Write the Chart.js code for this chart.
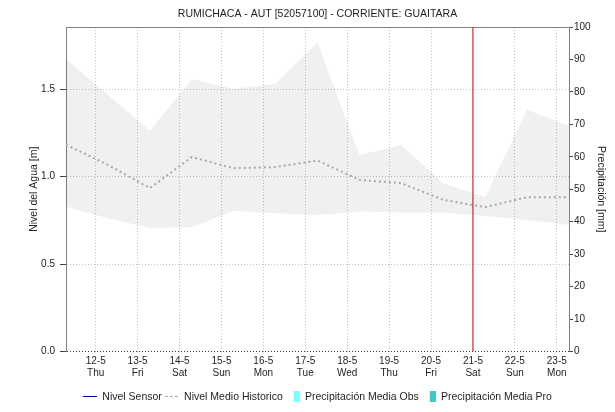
<!DOCTYPE html>
<html lang="es">
<head>
<meta charset="utf-8">
<title>RUMICHACA - AUT [52057100]</title>
<script src="https://cdn.jsdelivr.net/npm/chart.js@4.4.1/dist/chart.umd.min.js"></script>
<style>
  html, body { margin: 0; padding: 0; background: #ffffff; }
  #box { width: 615px; height: 412px; }
</style>
</head>
<body>
<div id="box"><canvas id="chart" width="615" height="412"></canvas></div>
<script>
// Station and axis text
const chartTitle = 'RUMICHACA - AUT [52057100] - CORRIENTE: GUAITARA';
const leftAxisTitle = 'Nivel del Agua [m]';
const rightAxisTitle = 'Precipitación [mm]';

// Day ticks, 12-5 to 23-5
const dayLabels = ['12-5', '13-5', '14-5', '15-5', '16-5', '17-5', '18-5', '19-5', '20-5', '21-5', '22-5', '23-5'];
const weekdayLabels = ['Thu', 'Fri', 'Sat', 'Sun', 'Mon', 'Tue', 'Wed', 'Thu', 'Fri', 'Sat', 'Sun', 'Mon'];

// Sample times in hours from 12-5 00:00 (one value per day, 07:00)
const sampleHours = [-17, 7, 31, 55, 79, 103, 127, 151, 175, 199, 223, 247, 271];

// Historic water level statistics [m]
const historicMax  = [1.672, 1.467, 1.262, 1.558, 1.502, 1.531, 1.768, 1.124, 1.181, 0.962, 0.882, 1.382, 1.290];
const historicMean = [1.182, 1.067, 0.934, 1.111, 1.048, 1.054, 1.092, 0.981, 0.962, 0.867, 0.825, 0.882, 0.882];
const historicMin  = [0.828, 0.762, 0.706, 0.710, 0.803, 0.790, 0.781, 0.800, 0.794, 0.794, 0.775, 0.752, 0.723];

// Sensor readings and precipitation: no records in this window
const sensorLevel = [];
const precipObserved = [];
const precipForecast = [];

// Current time marker (21-5 00:00)
const nowHour = 216;

// Axis ranges
const hourMin = -17, hourMax = 271;
const levelMax = 1.855;
const precipMax = 100;

const pairs = (xs, ys) => ys.map((y, i) => ({ x: xs[i], y }));

const tickFont = { family: '"Liberation Sans Narrow", "Arial Narrow", "Liberation Sans", Arial, sans-serif', size: 10 };
const textFont = { family: '"Liberation Sans", Arial, sans-serif', size: 10.5 };
const ink = '#1e1e1e';
const frame = '#808080';
const gridDots = '#c4c4c4';

// Small legend swatches
function swatch(w, h, paint) {
  const c = document.createElement('canvas');
  c.width = w; c.height = h;
  paint(c.getContext('2d'));
  return c;
}
const SW = 14;
const legendSwatches = {
  1: swatch(SW, 1, g => { g.fillStyle = '#0000cc'; g.fillRect(0, 0, SW, 1); }),
  2: swatch(SW, 1, g => { g.fillStyle = '#a8a8a8'; for (let x = 0; x < SW; x += 5) g.fillRect(x, 0, 3, 1); }),
  3: swatch(SW, 11, g => { g.fillStyle = '#80ffff'; g.fillRect(SW - 6, 0, 6, 11); }),
  4: swatch(SW, 11, g => { g.fillStyle = '#3ec8c8'; g.fillRect(SW - 6, 0, 6, 11); })
};

new Chart(document.getElementById('chart'), {
  type: 'line',
  data: {
    datasets: [
      { label: 'Ahora', data: [{ x: nowHour, y: 0 }, { x: nowHour, y: levelMax }],
        borderColor: '#e00000', borderWidth: 1, yAxisID: 'y' },
      { label: 'Nivel Sensor', data: sensorLevel, borderColor: '#0000cc', borderWidth: 1, yAxisID: 'y' },
      { label: 'Nivel Medio Historico', data: pairs(sampleHours, historicMean),
        borderColor: '#a8a8a8', borderWidth: 2, borderDash: [2, 3], yAxisID: 'y' },
      { type: 'bar', label: 'Precipitación Media Obs', data: precipObserved, backgroundColor: '#80ffff', yAxisID: 'y1' },
      { type: 'bar', label: 'Precipitación Media Pro', data: precipForecast, backgroundColor: '#3ec8c8', yAxisID: 'y1' },
      { label: 'Máximo Historico', data: pairs(sampleHours, historicMax),
        borderColor: 'rgba(0,0,0,0)', backgroundColor: 'rgba(0,0,0,0.06)', fill: '+1', yAxisID: 'y' },
      { label: 'Mínimo Historico', data: pairs(sampleHours, historicMin),
        borderColor: 'rgba(0,0,0,0)', fill: false, yAxisID: 'y' }
    ]
  },
  options: {
    responsive: false,
    animation: false,
    events: [],
    layout: { padding: 0 },
    elements: { point: { radius: 0 }, line: { tension: 0 } },
    scales: {
      x: {
        type: 'linear', position: 'bottom', min: hourMin, max: hourMax, offset: false,
        afterBuildTicks: s => { s.ticks = dayLabels.map((_, i) => ({ value: i * 24 })); },
        afterFit: s => { s.height = 37; },
        grid: { color: gridDots, drawTicks: false, offset: false },
        border: { display: false, dash: [1, 2] },
        ticks: { font: tickFont, color: ink, padding: 4, maxRotation: 0, autoSkip: false,
          callback: (v, i) => [dayLabels[i], weekdayLabels[i]] }
      },
      xTop: {
        type: 'linear', position: 'top', min: hourMin, max: hourMax,
        afterBuildTicks: s => { s.ticks = []; },
        afterFit: s => { s.height = 0; },
        grid: { drawOnChartArea: false, drawTicks: false },
        border: { color: frame, width: 1 },
        ticks: { display: false }
      },
      y: {
        position: 'left', min: 0, max: levelMax,
        afterFit: s => { s.width = 66; },
        grid: { color: c => (c.tick && c.tick.value === 0 ? '#3a3a3a' : gridDots),
                tickColor: '#444444', tickLength: 6 },
        border: { color: frame, width: 1, dash: [1, 2] },
        ticks: { stepSize: 0.5, includeBounds: false, font: tickFont, color: ink, padding: 5,
                 callback: v => v.toFixed(1) },
        title: { display: true, text: leftAxisTitle, font: textFont, color: ink, padding: { top: 27.5, bottom: 0 } }
      },
      y1: {
        position: 'right', min: 0, max: precipMax,
        afterFit: s => { s.width = 46; },
        grid: { drawOnChartArea: false, tickColor: '#444444', tickLength: 4 },
        border: { color: frame, width: 1 },
        ticks: { stepSize: 10, font: tickFont, color: ink, padding: 1 },
        title: { display: true, text: rightAxisTitle, font: textFont, color: ink, padding: { top: 7.7, bottom: 0 } }
      }
    },
    plugins: {
      tooltip: { enabled: false },
      title: {
        display: true, text: chartTitle, fullSize: false, color: ink,
        font: Object.assign({}, textFont, { weight: 'normal' }),
        padding: { top: 7.5, bottom: 6.9 }
      },
      legend: {
        position: 'bottom', fullSize: false, align: 'center',
        labels: {
          font: textFont, color: ink, usePointStyle: true, pointStyleWidth: SW, padding: 3,
          generateLabels(chart) {
            const items = Chart.defaults.plugins.legend.labels.generateLabels(chart);
            return items
              .filter(it => legendSwatches[it.datasetIndex])
              .map(it => Object.assign(it, { pointStyle: legendSwatches[it.datasetIndex], hidden: false }));
          }
        }
      }
    }
  }
});
</script>
</body>
</html>
